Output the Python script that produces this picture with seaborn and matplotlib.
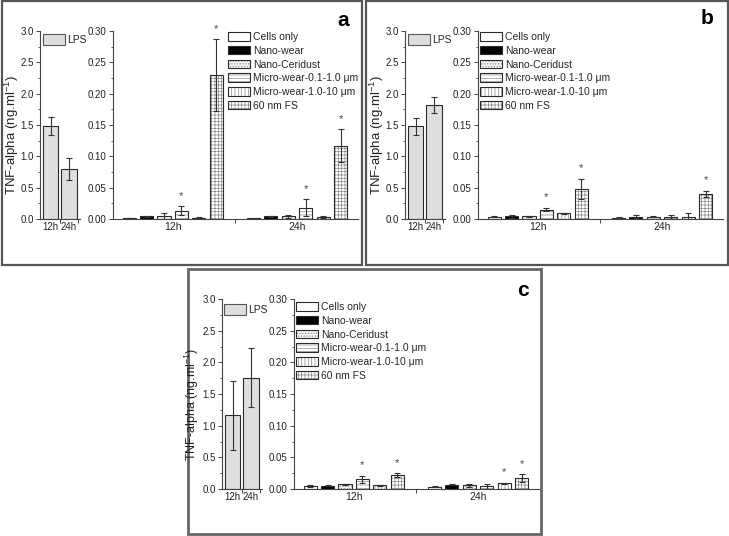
import numpy as np
import pandas as pd
import matplotlib
matplotlib.use("Agg")
import matplotlib.pyplot as plt
import matplotlib.colors as mcolors
import seaborn as sns
from matplotlib.patches import Rectangle, Patch
from matplotlib.ticker import MultipleLocator, FormatStrFormatter, FixedLocator

# ---------------- data ----------------
times = ["12h", "24h"]
materials = ["Cells only", "Nano-wear", "Nano-Ceridust",
             "Micro-wear-0.1-1.0 \u03bcm", "Micro-wear-1.0-10 \u03bcm", "60 nm FS"]

a_12_mean = [0.0015, 0.004, 0.004, 0.013, 0.002, 0.230]
a_12_err = [0.0005, 0.001, 0.006, 0.007, 0.001, 0.057]
a_24_mean = [0.001, 0.004, 0.004, 0.018, 0.003, 0.117]
a_24_err = [0.0005, 0.001, 0.002, 0.014, 0.002, 0.026]
a_lps_mean = [1.48, 0.80]
a_lps_err = [0.145, 0.17]
a_stars_12 = [3, 5]
a_stars_24 = [3, 5]

b_12_mean = [0.0037, 0.004, 0.004, 0.015, 0.009, 0.048]
b_12_err = [0.001, 0.0025, 0.001, 0.0027, 0.0005, 0.016]
b_24_mean = [0.002, 0.0037, 0.0037, 0.003, 0.003, 0.040]
b_24_err = [0.001, 0.002, 0.001, 0.003, 0.006, 0.005]
b_lps_mean = [1.48, 1.82]
b_lps_err = [0.135, 0.125]
b_stars_12 = [3, 5]
b_stars_24 = [5]

c_12_mean = [0.0047, 0.005, 0.0074, 0.0153, 0.0058, 0.022]
c_12_err = [0.002, 0.001, 0.001, 0.006, 0.001, 0.003]
c_24_mean = [0.0037, 0.0069, 0.0058, 0.0042, 0.009, 0.017]
c_24_err = [0.001, 0.001, 0.002, 0.004, 0.001, 0.006]
c_lps_mean = [1.165, 1.76]
c_lps_err = [0.545, 0.465]
c_stars_12 = [3, 5]
c_stars_24 = [4, 5]

# ---------------- style ----------------
sns.set_theme(style="white")
plt.rcParams["font.family"] = ["Liberation Sans", "DejaVu Sans"]
plt.rcParams["mathtext.default"] = "regular"
plt.rcParams["hatch.linewidth"] = 0.5
plt.rcParams["axes.linewidth"] = 0.8

fills = ["white", "black", "#f2f2f2", "white", "white", "white"]
hatches = [None, None, "......", "-----", "|||||", "+++++"]
HATCH_COL = "#8a8a8a"
EDGE = "#2a2a2a"
TXT = "#222222"

W, H = 729, 536
fig = plt.figure(figsize=(W / 100, H / 100), dpi=100)


def add_ax(l, t, r, b):
    return fig.add_axes([l / W, 1 - b / H, (r - l) / W, (b - t) / H])


def apply_hatch(p, hatch):
    if hatch:
        p.set_hatch(hatch)
        p._hatch_color = mcolors.to_rgba(HATCH_COL)


def style_axis(ax, ymax, major, minor, fmt, xlabsize):
    ax.set_ylim(0, ymax)
    ax.yaxis.set_major_locator(MultipleLocator(major))
    ax.yaxis.set_minor_locator(MultipleLocator(minor))
    ax.yaxis.set_major_formatter(FormatStrFormatter(fmt))
    for s in ["top", "right"]:
        ax.spines[s].set_visible(False)
    for s in ["left", "bottom"]:
        ax.spines[s].set_color("#444444")
        ax.spines[s].set_linewidth(0.8)
    ax.tick_params(axis="y", which="major", direction="out", length=3, width=0.7,
                   color="#444444", labelsize=7, labelcolor=TXT, pad=1.5, left=True)
    ax.tick_params(axis="y", which="minor", direction="out", length=1.6, width=0.6,
                   color="#444444", left=True)
    ax.tick_params(axis="x", which="major", length=0, labelsize=xlabsize, labelcolor=TXT, pad=2)
    ax.tick_params(axis="x", which="minor", direction="out", length=3, width=0.7,
                   color="#444444", bottom=True)
    ax.set_xlabel("")
    ax.set_ylabel("")
    ax.grid(False)
    ax.set_facecolor("none")


def draw_panel(letter, dx, dy, lps_box, main_box, ylab_pos, letter_pos,
               lps_mean, lps_err, m12, e12, m24, e24, s12, s24, main_leg, lps_leg):
    # LPS axis
    l, t, r, b = lps_box
    axl = add_ax(l + dx, t + dy, r + dx, b + dy)
    sns.barplot(x=times, y=lps_mean, color="#dedede", edgecolor=EDGE, linewidth=0.8,
                width=0.86, saturation=1, ax=axl, errorbar=None)
    for bar, err in zip(list(axl.patches), lps_err):
        axl.errorbar(bar.get_x() + bar.get_width() / 2, bar.get_height(), yerr=err,
                     fmt="none", ecolor="#333333", elinewidth=0.8, capsize=2.5, capthick=0.8)
    axl.set_xlim(-0.57, 1.6)
    style_axis(axl, 3.0, 0.5, 0.25, "%.1f", 7)
    axl.xaxis.set_minor_locator(FixedLocator([0.5, 1.5]))
    lx, ly = lps_leg
    axl.legend(handles=[Patch(facecolor="#dedede", edgecolor="#555555", linewidth=0.8, label="LPS")],
               loc="upper left", bbox_to_anchor=((lx + dx) / W, 1 - (ly + dy) / H),
               bbox_transform=fig.transFigure, frameon=False, fontsize=7.5,
               handlelength=2.1, handleheight=1.25, handletextpad=0.25, borderpad=0, borderaxespad=0)

    # main axis
    l, t, r, b = main_box
    axm = add_ax(l + dx, t + dy, r + dx, b + dy)
    df = pd.DataFrame({
        "time": [times[0]] * 6 + [times[1]] * 6,
        "material": materials * 2,
        "value": list(m12) + list(m24),
    })
    sns.barplot(data=df, x="time", y="value", hue="material", hue_order=materials,
                palette=fills, saturation=1, edgecolor=EDGE, linewidth=0.8,
                width=0.84, gap=0.25, errorbar=None, legend=False, ax=axm)
    stars = {0: s12, 1: s24}
    errs = {0: e12, 1: e24}
    bar_containers = list(axm.containers)
    for i, cont in enumerate(bar_containers):
        for j, bar in enumerate(cont):
            apply_hatch(bar, hatches[i])
            xc = bar.get_x() + bar.get_width() / 2
            h = bar.get_height()
            e = errs[j][i]
            axm.errorbar(xc, h, yerr=e, fmt="none", ecolor="#333333", elinewidth=0.8,
                         capsize=2.5, capthick=0.8)
            if i in stars[j]:
                axm.text(xc, h + e + 0.0165, "*", ha="center", va="center",
                         fontsize=8, color="#444444")
    axm.set_xlim(-0.48, 1.49)
    style_axis(axm, 0.30, 0.05, 0.025, "%.2f", 7.5)
    axm.xaxis.set_minor_locator(FixedLocator([0.5]))
    handles = []
    for fc, hh, lab in zip(fills, hatches, materials):
        p = Patch(facecolor=fc, edgecolor=EDGE, linewidth=0.8, label=lab)
        apply_hatch(p, hh)
        handles.append(p)
    mx, my = main_leg
    leg = axm.legend(handles=handles, loc="upper left",
                     bbox_to_anchor=((mx + dx) / W, 1 - (my + dy) / H),
                     bbox_transform=fig.transFigure, frameon=False, fontsize=7.5,
                     handlelength=2.1, handleheight=0.9, handletextpad=0.3,
                     labelspacing=0.36, borderpad=0, borderaxespad=0)
    for lh, hh in zip(leg.legend_handles, hatches):
        apply_hatch(lh, hh)

    yx, yy, yfs = ylab_pos
    fig.text((yx + dx) / W, 1 - (yy + dy) / H, "TNF-alpha (ng.ml$^{-1}$)", rotation=90,
             ha="center", va="center", fontsize=yfs, color=TXT)
    px, py = letter_pos
    fig.text((px + dx) / W, 1 - (py + dy) / H, letter, ha="center", va="center",
             fontsize=15, fontweight="bold", color="black")


# frames
for (x0, y0, x1, y1, col, lw) in [(2, 1, 362, 265, "#555555", 1.6),
                                   (366, 1, 728, 265, "#555555", 1.6),
                                   (188, 269, 541, 534, "#666666", 2.0)]:
    fig.patches.append(Rectangle((x0 / W, 1 - y1 / H), (x1 - x0) / W, (y1 - y0) / H,
                                 transform=fig.transFigure, fill=False, ec=col, lw=lw))

draw_panel("a", 0, 0, (40, 31, 80, 219), (113, 31, 358, 219), (12, 135, 9.5), (343, 21),
           a_lps_mean, a_lps_err, a_12_mean, a_12_err, a_24_mean, a_24_err,
           a_stars_12, a_stars_24, (228, 32), (43, 34))
draw_panel("b", 365, 0, (40, 31, 80, 219), (113, 31, 358, 219), (12, 135, 9.5), (342, 19),
           b_lps_mean, b_lps_err, b_12_mean, b_12_err, b_24_mean, b_24_err,
           b_stars_12, b_stars_24, (115, 32), (43, 34))
draw_panel("c", 182, 268, (40, 31, 80, 221), (112, 31, 357, 221), (10, 136, 9), (341, 22),
           c_lps_mean, c_lps_err, c_12_mean, c_12_err, c_24_mean, c_24_err,
           c_stars_12, c_stars_24, (114, 34), (42, 36))

fig.savefig("out.png", dpi=100, facecolor="white")
